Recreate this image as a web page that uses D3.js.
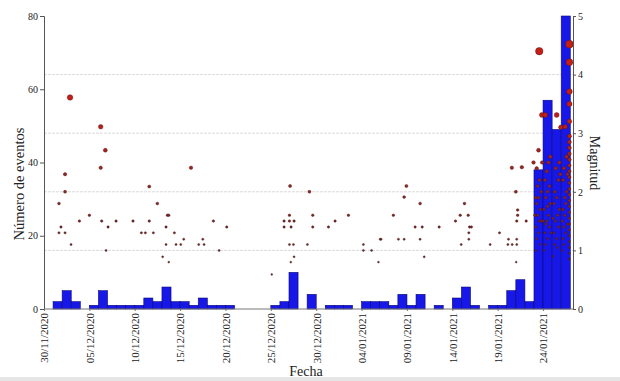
<!DOCTYPE html>
<html><head><meta charset="utf-8">
<script src="https://cdn.jsdelivr.net/npm/d3@7"></script>
<style>
html,body{margin:0;padding:0;background:#fff;}
text{font-family:"Liberation Serif","DejaVu Serif",serif;fill:#222;}
</style></head>
<body><svg id="chart" width="620" height="381"></svg>
<script>
// ---------------- DATA ----------------
const startDay = "2020-11-30";
// daily number of events, day 0 = 30/11/2020
const dailyCounts = [0,2,5,2,0,1,5,1,1,1,1,3,2,6,2,2,1,3,1,1,1,0,0,0,0,1,2,10,0,4,0,1,1,1,0,2,2,2,1,4,1,4,0,1,0,3,6,1,0,1,1,5,8,2,38,57,49,80];
const tickDates = ["30/11/2020","05/12/2020","10/12/2020","15/12/2020","20/12/2020","25/12/2020","30/12/2020","04/01/2021","09/01/2021","14/01/2021","19/01/2021","24/01/2021"];
const countTicks = [0,20,40,60,80];
const magTicks = [0,1,2,3,4,5];
// earthquakes: time (days since 30/11/2020 00:00) and magnitude
const quakeDay = [2.87,6.25,6.76,6.25,2.32,2.32,1.65,1.87,1.65,2.32,2.98,3.90,5.00,6.36,7.06,6.84,7.94,9.81,10.73,11.17,11.60,11.60,12.05,12.49,13.60,13.75,13.45,13.45,13.08,13.75,14.37,14.55,15.07,15.40,16.20,17.05,17.50,17.64,18.67,19.30,
 20.14,25.10,27.12,29.25,27.05,26.46,27.05,27.56,26.46,27.23,29.62,29.62,27.05,27.49,29.03,27.56,27.20,31.35,32.08,33.55,35.20,35.20,36.10,36.86,37.05,37.15,38.50,39.06,
 51.56,39.94,39.69,41.45,40.90,41.68,43.55,39.69,41.45,41.90,46.34,45.87,46.75,45.35,46.90,47.10,46.82,46.82,45.98,49.17,50.20,51.19,51.12,51.60,52.10,52.10,52.04,52.00,52.20,52.20,52.10,52.66,53.14,53.95,54.50,
 54.2,54.3,54.5,54.2,54.6,54.4,54.7,54.3,54.5,54.8,54.4,54.6,54.3,54.7,54.8,54.9,54.58,54.87,54.1,54.2,
 55.1,55.3,55.5,55.2,55.7,55.4,55.6,55.1,55.8,55.3,55.5,55.7,55.2,55.4,55.6,55.24,55.9,55.0,55.8,55.5,55.3,
 56.1,56.3,56.5,56.2,56.7,56.4,56.6,56.8,56.2,56.5,56.3,56.7,56.4,56.5,56.9,56.1,56.8,56.6,56.96,
 57.1,57.2,57.3,57.4,57.5,57.6,57.2,57.3,57.44,57.1,57.5,57.6,57.4,57.3,57.2,57.7,57.7,
 57.9,57.9,57.9,57.9,57.9,57.9,57.9,57.9,57.9,57.9,57.9,57.9,57.9,57.9,57.9,57.9,57.9,57.9,57.9,57.9,57.9,57.9,57.9,57.9,57.9,57.9,57.9];
const quakeMag = [3.61,3.11,2.71,2.41,2.30,2.00,1.80,1.40,1.30,1.30,1.10,1.50,1.60,1.50,1.40,1.00,1.50,1.50,1.30,1.30,1.50,2.09,1.30,1.80,1.60,1.60,1.40,1.10,0.89,0.80,1.30,1.10,1.10,1.19,2.41,1.10,1.19,1.10,1.50,1.00,
 1.40,0.59,2.10,2.00,1.60,1.50,1.50,1.50,1.40,1.40,1.60,1.40,1.10,1.10,1.10,0.89,0.80,1.40,1.50,1.60,1.10,1.00,1.00,0.80,1.19,1.19,1.60,1.19,
 2.41,2.10,1.91,1.80,1.40,1.40,1.40,1.19,1.19,0.89,1.80,1.60,1.60,1.50,1.40,1.40,1.30,1.19,1.10,1.10,1.30,1.19,1.10,1.10,1.19,1.10,0.80,2.00,1.69,1.60,1.50,2.42,1.50,2.50,2.71,
 1.0,1.2,1.3,1.4,1.5,1.6,1.7,1.8,1.9,2.0,2.1,2.2,2.4,1.1,1.5,2.5,4.40,3.31,1.6,1.9,
 1.0,1.1,1.2,1.3,1.4,1.5,1.6,1.7,1.8,1.9,2.0,2.1,2.2,2.35,2.5,3.31,1.3,1.5,2.6,1.75,1.45,
 0.9,1.1,1.2,1.3,1.4,1.5,1.6,1.7,1.8,1.9,2.0,2.2,2.4,3.31,2.3,1.55,2.5,1.05,3.10,
 1.0,1.2,1.4,1.6,1.8,2.0,2.2,2.4,3.11,1.5,1.3,2.6,1.9,1.1,1.7,1.45,2.3,
 0.85,0.95,1.05,1.15,1.25,1.35,1.45,1.55,1.65,1.75,1.85,1.95,2.05,2.15,2.25,2.35,2.45,2.55,2.65,2.75,2.85,2.95,3.2,3.5,3.71,4.21,4.52];

// ---------------- CHART ----------------
const svg = d3.select("#chart");
const DAY = 864e5;
const t0 = Date.parse(startDay + "T00:00:00Z");
const toDate = d => new Date(t0 + d * DAY);
const pL = 44, pR = 573, pT = 16, pB = 309;

const x = d3.scaleUtc().domain([toDate(0), toDate(58.3)]).range([pL, pR]);
const yC = d3.scaleLinear().domain([0, 80]).range([pB, pT]);
const yM = d3.scaleLinear().domain([0, 5]).range([pB, pT]);
const rM = m => 0.7 * Math.exp(0.38 * m);
const colM = d3.scaleLinear().domain([0.8, 3.4]).range(["#5a3030", "#c41e16"]).clamp(true);
const parseTick = d3.utcParse("%d/%m/%Y");

// bottom grey strip
svg.append("rect").attr("x", 0).attr("y", 377).attr("width", 620).attr("height", 4).attr("fill", "#e6e6e6");

// gridlines (magnitude 1..4)
svg.append("g").selectAll("line").data([1,2,3,4]).join("line")
  .attr("x1", pL).attr("x2", pR)
  .attr("y1", d => yM(d)).attr("y2", d => yM(d))
  .attr("stroke", "#dadada").attr("stroke-width", 1).attr("stroke-dasharray", "3,1");

// bars
svg.append("g").selectAll("rect").data(dailyCounts.map((c, i) => ({c, i})).filter(d => d.c > 0)).join("rect")
  .attr("x", d => x(toDate(d.i)))
  .attr("width", d => x(toDate(d.i + 1)) - x(toDate(d.i)))
  .attr("y", d => yC(Math.min(d.c, 80)))
  .attr("height", d => pB - yC(Math.min(d.c, 80)))
  .attr("fill", "#1717e8").attr("stroke", "#08087a").attr("stroke-width", 0.6);

// earthquakes
const quakes = quakeDay.map((d, i) => ({d, m: quakeMag[i]})).sort((a, b) => a.m - b.m);
svg.append("g").selectAll("circle").data(quakes).join("circle")
  .attr("cx", q => x(toDate(q.d)))
  .attr("cy", q => yM(q.m))
  .attr("r", q => rM(q.m))
  .attr("fill", q => colM(q.m))
  .attr("stroke", "#4a1010").attr("stroke-width", 0.4);

// axes
const axL = svg.append("g").attr("transform", `translate(${pL},0)`)
  .call(d3.axisLeft(yC).tickValues(countTicks).tickSize(4).tickPadding(2));
const axR = svg.append("g").attr("transform", `translate(${pR},0)`)
  .call(d3.axisRight(yM).tickValues(magTicks).tickFormat(d3.format("d")).tickSize(3).tickPadding(2));
[axL, axR].forEach(a => {
  a.select(".domain").attr("stroke", "#555");
  a.selectAll(".tick line").attr("stroke", "#555");
  a.selectAll(".tick text").style("font-family", "Liberation Serif").style("font-size", "10px").attr("fill", "#333");
});

// bottom axis
svg.append("line").attr("x1", pL).attr("x2", pR).attr("y1", pB).attr("y2", pB).attr("stroke", "#777");
const axB = svg.append("g").attr("transform", `translate(0,${pB})`)
  .call(d3.axisBottom(x).tickValues(tickDates.map(parseTick)).tickFormat(d3.utcFormat("%d/%m/%Y")).tickSize(2));
axB.select(".domain").remove();
axB.selectAll(".tick line").attr("stroke", "#777");
axB.selectAll(".tick text")
  .style("font-family", "Liberation Serif").style("font-size", "11px").attr("fill", "#333")
  .attr("text-anchor", "end").attr("transform", "rotate(-90)")
  .attr("x", -4).attr("y", 0).attr("dy", "0.35em");

// titles
svg.append("text").attr("transform", "translate(24,184) rotate(-90)").attr("text-anchor", "middle")
  .style("font-size", "14.5px").text("Número de eventos");
svg.append("text").attr("transform", "translate(590,163) rotate(90)").attr("text-anchor", "middle")
  .style("font-size", "14px").text("Magnitud");
svg.append("text").attr("x", 306).attr("y", 376).attr("text-anchor", "middle")
  .style("font-size", "14px").text("Fecha");
</script></body></html>
